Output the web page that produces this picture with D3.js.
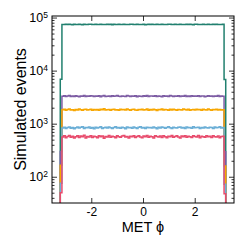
<!DOCTYPE html>
<html>
<head>
<meta charset="utf-8">
<script src="https://cdn.jsdelivr.net/npm/d3@7"></script>
<style>
  body { margin: 0; background: #fff; }
  text { font-family: "Liberation Sans", Arial, Helvetica, sans-serif; fill: #000; }
</style>
</head>
<body>
<div id="chart"></div>
<script>
// histogram binning: 100 bins from -3.2 to 3.2 (first / last only partly filled, phi in [-pi, pi])
const binLo = -3.2, binHi = 3.2, nBins = 100;

const seriesNames = ["teal", "purple", "orange", "blue", "pink"];
const seriesColors = ["#21806f", "#7c5ba3", "#f7a600", "#6aaed6", "#e84b6c"];

const tealCounts = [6900,
  74200, 73600, 74800, 73900, 74500, 74100, 73500, 74900, 74300, 73800,
  74600, 74000, 73400, 74700, 74200, 73900, 74400, 75000, 73700, 74100,
  74500, 73800, 74300, 74800, 73600, 74200, 74000, 74600, 73900, 74400,
  73500, 74700, 74100, 73800, 74500, 74300, 73700, 74900, 74000, 74200,
  73600, 74400, 74800, 73900, 74100, 74600, 73800, 74300, 74000, 74700,
  73500, 74200, 74500, 73900, 74400, 74100, 73700, 74800, 74300, 73600,
  74600, 74000, 74200, 73800, 74500, 74900, 73700, 74100, 74400, 73900,
  74300, 74700, 73600, 74200, 74000, 74500, 73800, 74600, 74100, 73500,
  74400, 74800, 73900, 74200, 74000, 74600, 73700, 74300, 74500, 73800,
  74100, 74700, 73900, 74400, 74200, 74000, 73600, 74500,
  6800];

const purpleCounts = [300,
  3290, 3350, 3260, 3320, 3380, 3240, 3310, 3270, 3360, 3300,
  3230, 3340, 3290, 3400, 3250, 3320, 3280, 3370, 3310, 3260,
  3330, 3290, 3350, 3220, 3310, 3390, 3270, 3300, 3340, 3250,
  3360, 3280, 3320, 3410, 3290, 3240, 3330, 3300, 3270, 3380,
  3310, 3250, 3340, 3290, 3360, 3230, 3320, 3300, 3270, 3350,
  3290, 3400, 3260, 3310, 3340, 3280, 3370, 3250, 3320, 3300,
  3230, 3350, 3290, 3330, 3270, 3380, 3310, 3260, 3340, 3290,
  3360, 3240, 3320, 3300, 3390, 3270, 3310, 3250, 3350, 3290,
  3330, 3280, 3370, 3260, 3310, 3340, 3230, 3300, 3360, 3280,
  3320, 3250, 3340, 3290, 3380, 3270, 3310, 3300,
  295];

const orangeCounts = [165,
  1830, 1870, 1800, 1850, 1890, 1810, 1840, 1780, 1860, 1820,
  1900, 1830, 1790, 1850, 1870, 1810, 1840, 1880, 1800, 1860,
  1820, 1850, 1790, 1870, 1840, 1910, 1810, 1830, 1860, 1800,
  1850, 1880, 1820, 1840, 1790, 1870, 1830, 1860, 1810, 1900,
  1840, 1800, 1850, 1880, 1820, 1790, 1860, 1840, 1870, 1810,
  1830, 1890, 1800, 1850, 1820, 1870, 1840, 1780, 1860, 1830,
  1900, 1810, 1850, 1840, 1800, 1870, 1820, 1880, 1830, 1790,
  1860, 1840, 1810, 1890, 1850, 1820, 1870, 1800, 1840, 1860,
  1810, 1880, 1830, 1850, 1790, 1870, 1840, 1820, 1900, 1830,
  1800, 1860, 1840, 1870, 1810, 1850, 1820, 1840,
  160];

const blueCounts = [75,
  830, 860, 815, 845, 870, 820, 850, 805, 840, 865,
  825, 855, 880, 810, 845, 835, 870, 820, 850, 800,
  860, 830, 845, 875, 815, 840, 855, 825, 865, 835,
  810, 850, 880, 830, 845, 820, 860, 840, 805, 870,
  835, 850, 820, 865, 840, 815, 855, 875, 830, 845,
  810, 860, 835, 850, 825, 870, 840, 805, 855, 830,
  865, 845, 820, 850, 880, 835, 815, 860, 840, 825,
  855, 870, 830, 845, 810, 865, 840, 850, 820, 875,
  835, 845, 860, 815, 850, 830, 870, 840, 825, 855,
  845, 810, 865, 835, 850, 880, 830, 845,
  72];

const pinkCounts = [50,
  560, 590, 545, 575, 600, 555, 580, 535, 570, 595,
  550, 585, 565, 605, 540, 575, 560, 590, 550, 580,
  570, 545, 595, 565, 585, 530, 575, 560, 600, 555,
  580, 565, 545, 590, 570, 555, 585, 600, 560, 575,
  540, 580, 565, 595, 550, 575, 590, 560, 545, 585,
  570, 600, 555, 580, 565, 540, 590, 575, 560, 585,
  550, 595, 570, 545, 580, 565, 600, 555, 575, 590,
  560, 540, 585, 570, 595, 555, 580, 565, 550, 590,
  575, 560, 600, 545, 580, 570, 555, 590, 565, 580,
  550, 595, 570, 560, 585, 545, 575, 580,
  48];

const xTicks = [-2, 0, 2];
const yTicks = [1e2, 1e3, 1e4, 1e5];
const xDomain = [-3.52, 3.52];
const yDomain = [32, 1.07e5];

const width = 249, height = 249;
const margin = {top: 16, right: 15, bottom: 46, left: 52};
const w = width - margin.left - margin.right;
const h = height - margin.top - margin.bottom;

let svg = d3.select("#chart")
    .append("svg")
    .attr("width", width)
    .attr("height", height)
    .append("g")
    .attr("transform", `translate(${margin.left}, ${margin.top})`);

let x = d3.scaleLinear().domain(xDomain).range([0, w]);
let y = d3.scaleLog().domain(yDomain).range([h, 0]);

svg.append("clipPath")
    .attr("id", "plotclip")
    .append("rect")
    .attr("width", w)
    .attr("height", h);

let edges = d3.range(nBins + 1).map(i => binLo + (binHi - binLo) * i / nBins);

// step outline: up from zero, across each bin, back down to zero
function stepPoints(counts) {
    let pts = [[x(edges[0]), h + 5]];
    counts.forEach(function(c, i) {
        pts.push([x(edges[i]), y(c)]);
        pts.push([x(edges[i + 1]), y(c)]);
    });
    pts.push([x(edges[nBins]), h + 5]);
    return pts;
}

let allCounts = [tealCounts, purpleCounts, orangeCounts, blueCounts, pinkCounts];

let plot = svg.append("g").attr("clip-path", "url(#plotclip)");
allCounts.forEach(function(counts, k) {
    plot.append("path")
        .datum(stepPoints(counts))
        .attr("fill", "none")
        .attr("stroke", seriesColors[k])
        .attr("stroke-width", 1.5)
        .attr("stroke-linejoin", "miter")
        .attr("d", d3.line());
});

// minor ticks for the log axis
let minorTicks = [];
for (let d = 1; d <= 5; d++) {
    for (let m = 2; m <= 9; m++) {
        let v = m * Math.pow(10, d);
        if (v >= yDomain[0] && v <= yDomain[1]) minorTicks.push(v);
    }
}

function styleAxis(g) {
    g.select(".domain").remove();
    g.selectAll("line").attr("stroke", "#000").attr("stroke-width", 0.8);
}

svg.append("g")
    .attr("transform", `translate(0, ${h})`)
    .call(d3.axisBottom(x).tickValues(xTicks).tickSizeInner(-5).tickPadding(4)
        .tickFormat(d => d < 0 ? "-" + Math.abs(d) : d))
    .call(styleAxis)
    .selectAll("text").style("font-size", "12px");

svg.append("g")
    .call(d3.axisTop(x).tickValues(xTicks).tickSizeInner(-5).tickFormat(""))
    .call(styleAxis);

svg.append("g")
    .call(d3.axisLeft(y).tickValues(minorTicks).tickSizeInner(-2.5).tickFormat(""))
    .call(styleAxis);
svg.append("g")
    .attr("transform", `translate(${w}, 0)`)
    .call(d3.axisRight(y).tickValues(minorTicks).tickSizeInner(-2.5).tickFormat(""))
    .call(styleAxis);
svg.append("g")
    .attr("transform", `translate(${w}, 0)`)
    .call(d3.axisRight(y).tickValues(yTicks).tickSizeInner(-5).tickFormat(""))
    .call(styleAxis);

let yAxis = svg.append("g")
    .call(d3.axisLeft(y).tickValues(yTicks).tickSizeInner(-5).tickPadding(4).tickFormat(""))
    .call(styleAxis);

yAxis.selectAll(".tick text").each(function(d) {
    let t = d3.select(this).style("font-size", "12.5px");
    t.append("tspan").text("10");
    t.append("tspan")
        .attr("dy", "-0.45em")
        .style("font-size", "8.5px")
        .text(Math.round(Math.log10(d)));
});

// frame
svg.append("rect")
    .attr("width", w)
    .attr("height", h)
    .attr("fill", "none")
    .attr("stroke", "#000")
    .attr("stroke-width", 1);

svg.append("text")
    .attr("transform", `translate(${w / 2}, ${h + 29})`)
    .style("text-anchor", "middle")
    .style("font-size", "14.5px")
    .text("MET \u03d5");

svg.append("text")
    .attr("transform", `translate(${-26}, ${h / 2}) rotate(-90)`)
    .style("text-anchor", "middle")
    .style("font-size", "16px")
    .text("Simulated events");
</script>
</body>
</html>
